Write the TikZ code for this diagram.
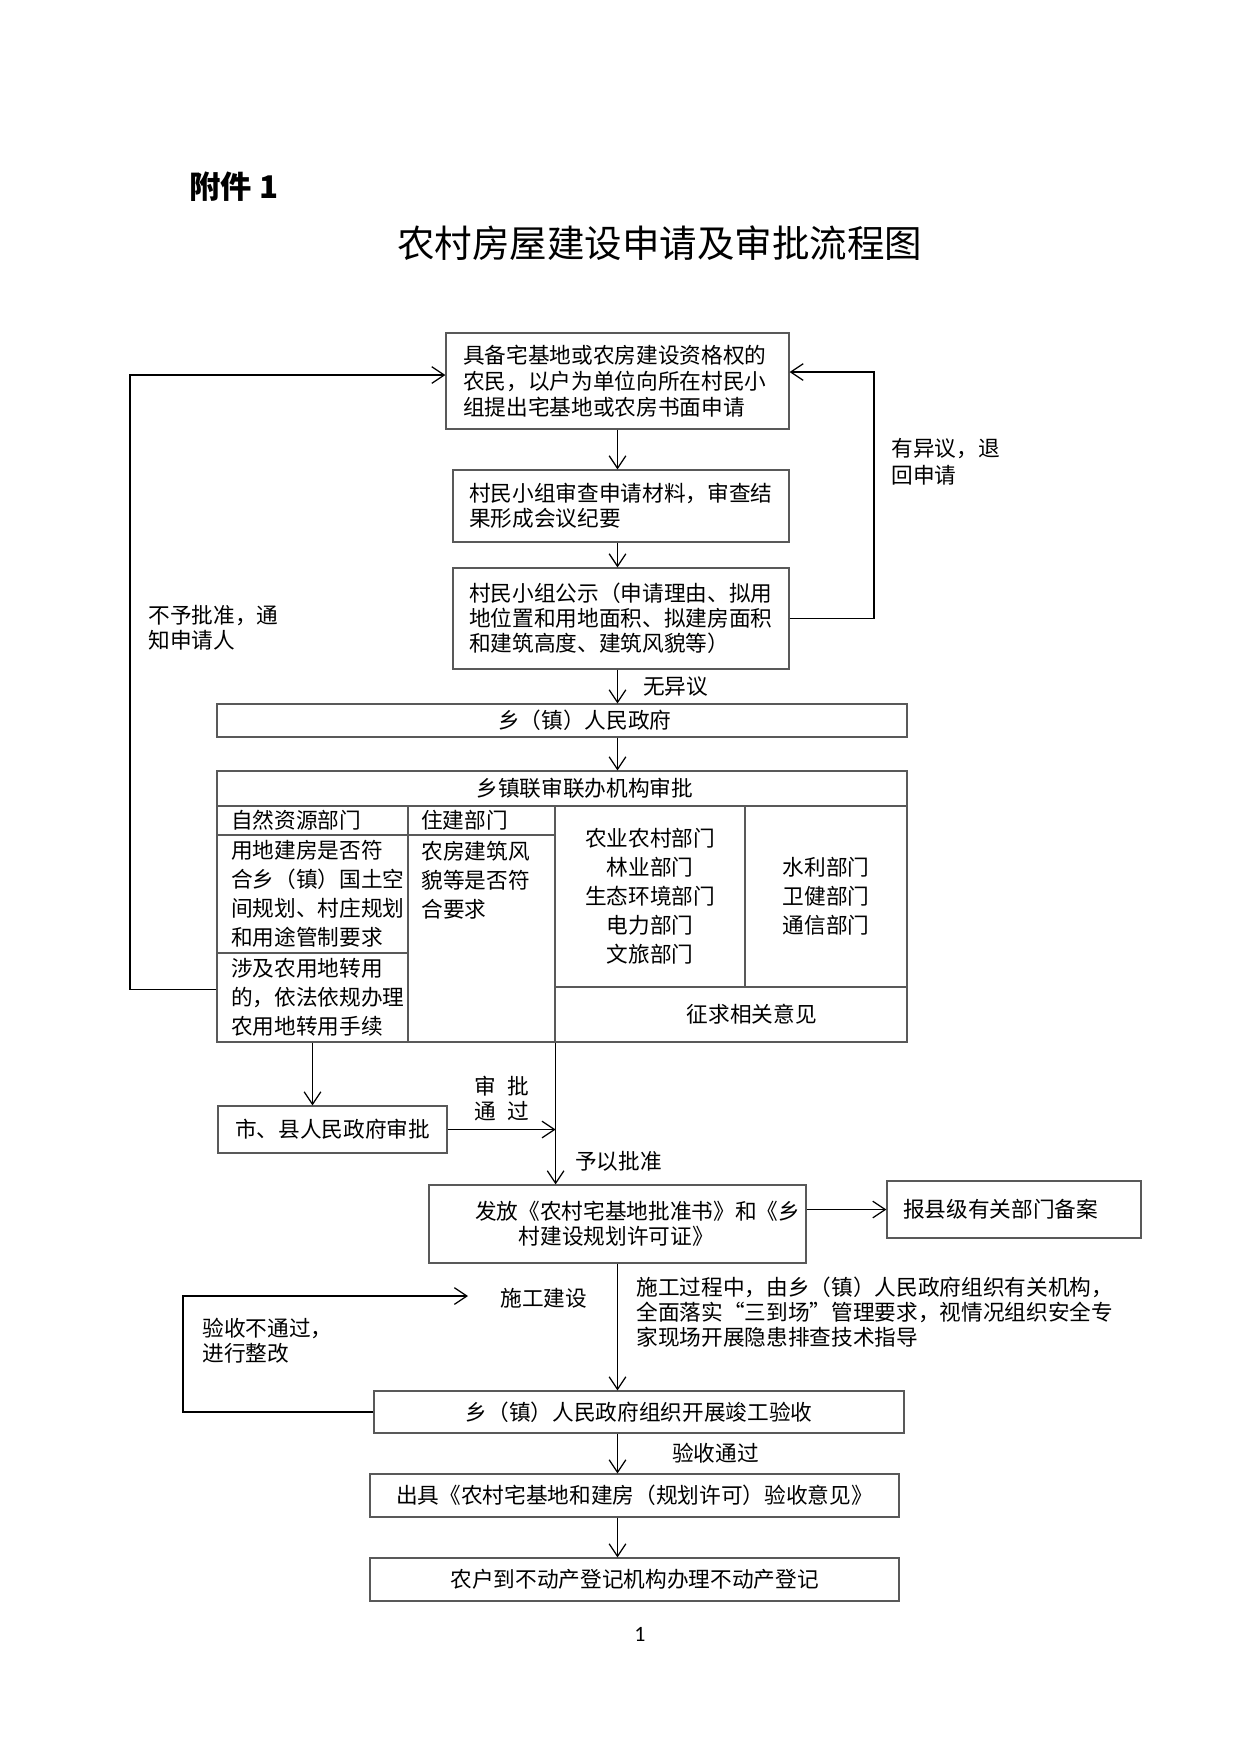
\documentclass[tikz,border=0pt]{standalone}
\usepackage{fontspec}
\newfontfamily\cjk{Noto Sans CJK SC}
\newfontfamily\latinsans{Carlito}
\usetikzlibrary{arrows.meta,positioning}
\newcommand{\txtfont}{\cjk\fontsize{10.4pt}{12pt}\selectfont}
\newcommand{\tabfont}{\cjk\fontsize{10.4pt}{13.9pt}\selectfont}

\begin{document}
\begin{tikzpicture}[x=0.48pt,y=-0.48pt,
    >={Straight Barb[length=6pt,width=8pt]},
    box/.style={draw=black!65,line width=0.6pt,inner sep=0pt,font=\txtfont,align=center},
    cell/.style={box,font=\tabfont},
    flow/.style={->,line width=0.6pt},
    lbl/.style={inner sep=0pt,font=\txtfont,align=left}]
        \useasboundingbox (0,0) rectangle (1240,1754);

        \node[anchor=west,inner sep=0pt,font=\cjk\fontsize{15pt}{18pt}\selectfont\bfseries] (annex) at (189,187) {附件 1};
        \node[inner sep=0pt,font=\cjk\fontsize{18pt}{22pt}\selectfont] (title) at (659.5,243) {农村房屋建设申请及审批流程图};

        \node[box,align=left,inner xsep=8.16pt,text width=148.3pt,minimum width=164.64pt,minimum height=46.08pt,font=\cjk\fontsize{10.4pt}{12.6pt}\selectfont] (apply) at (617.5,381)
            {具备宅基地或农房建设资格权的\\农民，以户为单位向所在村民小\\组提出宅基地或农房书面申请};
        \node[box,align=left,inner xsep=7.68pt,text width=145.9pt,minimum width=161.28pt,minimum height=34.56pt] (check) at (621,506)
            {村民小组审查申请材料，审查结\\果形成会议纪要};
        \node[box,align=left,inner xsep=7.68pt,text width=145.9pt,minimum width=161.28pt,minimum height=48.48pt] (pub) at (621,618.5)
            {村民小组公示（申请理由、拟用\\地位置和用地面积、拟建房面积\\和建筑高度、建筑风貌等）};

        \node[box,minimum width=331.2pt,minimum height=15.84pt] (town) at (562,720.5) {\hspace*{22pt}乡（镇）人民政府};

        \node[cell,minimum width=331.2pt,minimum height=16.8pt] (jtitle) at (562,788.5) {\hspace*{22pt}乡镇联审联办机构审批};
        \node[cell,align=left,inner xsep=6.72pt,text width=78.24pt,minimum width=91.68pt,minimum height=13.92pt] (zrh) at (312.5,820.5) {自然资源部门};
        \node[cell,align=left,inner xsep=6.72pt,text width=78.24pt,minimum width=91.68pt,minimum height=56.64pt] (zrb1) at (312.5,894)
            {用地建房是否符\\合乡（镇）国土空\\间规划、村庄规划\\和用途管制要求};
        \node[cell,align=left,inner xsep=6.72pt,text width=78.24pt,minimum width=91.68pt,minimum height=42.72pt] (zrb2) at (312.5,997.5)
            {涉及农用地转用\\的，依法依规办理\\农用地转用手续};
        \node[cell,align=left,inner xsep=6.24pt,text width=58.08pt,minimum width=70.56pt,minimum height=13.92pt] (zjh) at (481.5,820.5) {住建部门};
        \node[cell,minimum width=70.56pt,minimum height=99.36pt] (zjb) at (481.5,938.5) {};
        \node[lbl,font=\tabfont,anchor=north west] (zjtxt) at (421,841) {农房建筑风\\貌等是否符\\合要求};
        \node[cell,minimum width=91.2pt,minimum height=86.88pt] (agri) at (650,896.5)
            {农业农村部门\\林业部门\\生态环境部门\\电力部门\\文旅部门};
        \node[cell,minimum width=77.76pt,minimum height=86.88pt] (water) at (826,896.5)
            {水利部门\\卫健部门\\通信部门};
        \node[cell,minimum width=168.96pt,minimum height=26.4pt] (opinion) at (731,1014.5) {\hspace*{20pt}征求相关意见};

        \node[box,minimum width=109.92pt,minimum height=22.56pt] (city) at (332.5,1129.5) {市、县人民政府审批};
        \node[box,align=left,inner xsep=22.08pt,text width=136.8pt,minimum width=180.96pt,minimum height=37.44pt] (issue) at (617.5,1224)
            {发放《农村宅基地批准书》和《乡\\\hspace*{21.1pt}村建设规划许可证》};
        \node[box,align=left,inner xsep=7.68pt,text width=106.56pt,minimum width=121.92pt,minimum height=27.36pt] (record) at (1014,1209.5) {报县级有关部门备案};
        \node[box,minimum width=254.4pt,minimum height=20.16pt] (accept) at (639,1412) {乡（镇）人民政府组织开展竣工验收};
        \node[box,minimum width=253.92pt,minimum height=20.64pt] (cert) at (634.5,1495.5) {出具《农村宅基地和建房（规划许可）验收意见》};
        \node[box,minimum width=253.92pt,minimum height=20.64pt] (final) at (634.5,1579.5) {农户到不动产登记机构办理不动产登记};

        \draw[flow] (apply.south) -- (apply.south |- check.north);
        \draw[flow] (apply.south |- check.south) -- (apply.south |- pub.north);
        \draw[flow] (apply.south |- pub.south) -- node[lbl,right=12pt] {无异议} (apply.south |- town.north);
        \draw[flow] (apply.south |- town.south) -- (apply.south |- jtitle.north);

        \coordinate (rt) at (874,372);
        \draw[flow] (pub.east) -| (rt) -- (rt -| apply.east);
        \node[lbl,anchor=west,font=\cjk\fontsize{10.4pt}{13pt}\selectfont] (objlbl) at (891,461.5) {有异议，退\\回申请};

        \coordinate (lt) at (130,375);
        \draw[flow] ([yshift=4pt]zrb2.west) -| (lt) -- (lt -| apply.west);
        \node[lbl,anchor=west] (rejlbl) at (148,627.5) {不予批准，通\\知申请人};

        \draw[flow] (zrb2.south) -- (zrb2.south |- city.north);
        \draw[flow] (city.east) -- node[lbl,above=4pt,align=center] {审\hspace{.5em}批\\通\hspace{.5em}过} (city.east -| zjb.south east);
        \draw[flow] (zjb.south east) -- node[lbl,pos=0.84,right=9pt] {予以批准} (zjb.south east |- issue.north);
        \draw[flow] (issue.east |- record.west) -- (record.west);

        \draw[flow] (issue.south) -- (issue.south |- accept.north);
        \node[lbl,anchor=west] (buildlbl) at (500,1298) {施工建设};
        \node[lbl,anchor=west] (safelbl) at (636,1312.5)
            {施工过程中，由乡（镇）人民政府组织有关机构，\\全面落实“三到场”管理要求，视情况组织安全专\\家现场开展隐患排查技术指导};
        \coordinate (bl) at (183,1296);
        \coordinate (bk) at (468,1296);
        \draw[flow] (accept.west) -| (bl) -- (bk);
        \node[lbl,anchor=west] (faillbl) at (202,1340.5) {验收不通过，\\进行整改};

        \draw[flow] (issue.south |- accept.south) -- node[lbl,right=26pt] {验收通过} (issue.south |- cert.north);
        \draw[flow] (issue.south |- cert.south) -- (issue.south |- final.north);

        \node[inner sep=0pt,font=\latinsans\fontsize{10.5pt}{12pt}\selectfont] (pageno) at (640,1634) {1};
    \end{tikzpicture}
\end{document}
